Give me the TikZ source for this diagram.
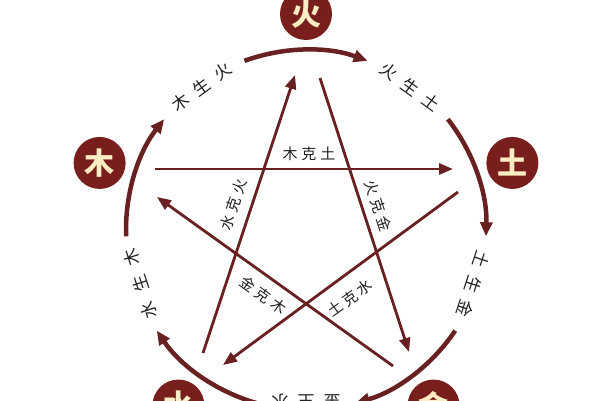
\documentclass[tikz,border=0pt]{standalone}
\usepackage{fontspec}
\newfontfamily\cjk{Noto Sans CJK SC}
\usetikzlibrary{arrows.meta,calc}
\definecolor{maroon}{RGB}{104,32,32}
\definecolor{elemfill}{RGB}{120,30,28}
\definecolor{cream}{RGB}{250,236,195}
\definecolor{txt}{RGB}{35,32,32}
\begin{document}
\begin{tikzpicture}[x=1pt,y=1pt,
  ring/.style={draw=maroon, line width=4.5pt, -{Triangle[length=14pt,width=12pt]}},
  ke/.style={draw=maroon, line width=2.8pt, -{Triangle[length=14pt,width=11pt]}},
  elem/.style={circle, fill=elemfill, minimum size=52pt, inner sep=0pt, text=cream,
    font=\cjk\bfseries\fontsize{30}{30}\selectfont},
  shenglab/.style={text=txt, inner sep=0pt, font=\cjk\fontsize{17}{17}\selectfont},
  kelab/.style={text=txt, inner sep=0pt, font=\cjk\fontsize{15}{15}\selectfont}]
\useasboundingbox (0,0) rectangle (600,400);
\fill[white] (0,0) rectangle (600,400);
\coordinate (C) at (306,170);
% element circles
\node[elem] (huo) at ($(C)+(90:216pt)$) {火};
\node[elem] (tu)  at ($(C)+(18:217pt)$) {土};
\node[elem] (jin) at ($(C)+(-54:217pt)$) {金};
\node[elem] (shui) at ($(C)+(234:217pt)$) {水};
\node[elem] (mu)  at ($(C)+(162:217pt)$) {木};
% generating cycle arcs
\draw[ring] ($(C)+(110:180pt)$) arc[start angle=110, end angle=70, radius=180pt];
\draw[ring] ($(C)+(38:180pt)$) arc[start angle=38, end angle=-2, radius=180pt];
\draw[ring] ($(C)+(-34:180pt)$) arc[start angle=-34, end angle=-74, radius=180pt];
\draw[ring] ($(C)+(254:180pt)$) arc[start angle=254, end angle=214, radius=180pt];
\draw[ring] ($(C)+(182:180pt)$) arc[start angle=182, end angle=142, radius=180pt];
% generating labels
\node[shenglab, rotate=36] (l1) at ($(C)+(126:177pt)$) {木\hspace{9pt}生\hspace{9pt}火};
\node[shenglab, rotate=-36] (l2) at ($(C)+(54:177pt)$) {火\hspace{9pt}生\hspace{9pt}土};
\node[shenglab, rotate=-108] (l3) at ($(C)+(-18:176pt)$) {土\hspace{9pt}生\hspace{9pt}金};
\node[shenglab, rotate=180] (l4) at ($(C)+(-90:172pt)$) {金\hspace{9pt}生\hspace{9pt}水};
\node[shenglab, rotate=108] (l5) at ($(C)+(198:174pt)$) {水\hspace{11pt}生\hspace{11pt}木};
% controlling star
\coordinate (a1) at (155,231); \coordinate (b1) at (453,231);
\coordinate (a2) at (458,208); \coordinate (b2) at (223,35);
\coordinate (a3) at (203,47);  \coordinate (b3) at (295,325);
\coordinate (a4) at (320,322); \coordinate (b4) at (409,48);
\coordinate (a5) at (393,34);  \coordinate (b5) at (157,203);
\draw[ke] (a1) -- (b1);
\draw[ke] (a2) -- (b2);
\draw[ke] (a3) -- (b3);
\draw[ke] (a4) -- (b4);
\draw[ke] (a5) -- (b5);
\node[kelab] (k1) at (309,246) {木\hspace{4pt}克\hspace{4pt}土};
\node[kelab, rotate=36] (k2) at (350,102) {土\hspace{3pt}克\hspace{3pt}水};
\node[kelab, rotate=71.7] (k3) at (233,195) {水\hspace{4pt}克\hspace{4pt}火};
\node[kelab, rotate=-72] (k4) at (378,194) {火\hspace{4pt}克\hspace{4pt}金};
\node[kelab, rotate=-35.6] (k5) at (263,105) {金\hspace{4pt}克\hspace{4pt}木};
\end{tikzpicture}
\end{document}
